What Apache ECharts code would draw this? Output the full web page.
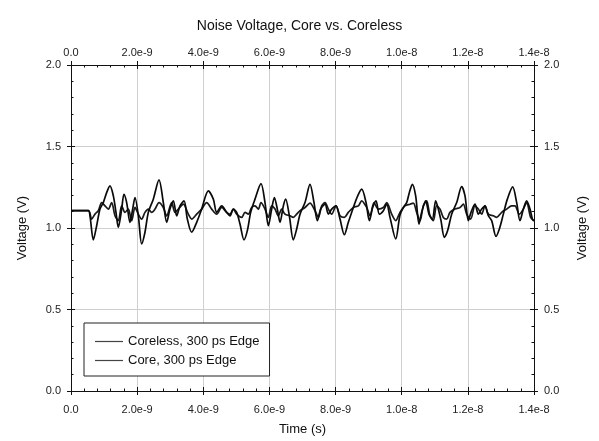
<!DOCTYPE html>
<html>
<head>
<meta charset="utf-8">
<script src="https://cdn.jsdelivr.net/npm/echarts@6/dist/echarts.min.js"></script>
<style>html,body{margin:0;padding:0;background:#fff}#c{width:599px;height:441px}</style>
</head>
<body>
<div id="c"></div>
<script>
// Time in ns (axis labels shown in seconds)
const xTicks = [0, 2, 4, 6, 8, 10, 12, 14];
const yTicks = [0, 0.5, 1.0, 1.5, 2.0];

const corelessT = [0, 0.524, 0.625, 0.725, 0.826, 0.927, 1.028, 1.129, 1.229, 1.330, 1.431, 1.532, 1.633, 1.733, 1.834, 1.935, 2.036, 2.137, 2.237, 2.338, 2.439, 2.540, 2.661, 2.792, 2.893, 3.044, 3.145, 3.246, 3.397, 3.548, 3.649, 3.800, 3.951, 4.102, 4.253, 4.405, 4.556, 4.707, 4.808, 4.909, 5.010, 5.161, 5.262, 5.362, 5.463, 5.564, 5.665, 5.745, 5.866, 5.967, 6.068, 6.169, 6.270, 6.370, 6.471, 6.622, 6.723, 6.824, 6.925, 7.076, 7.227, 7.378, 7.479, 7.580, 7.681, 7.782, 7.882, 8.013, 8.134, 8.265, 8.386, 8.538, 8.689, 8.790, 8.941, 9.042, 9.163, 9.294, 9.445, 9.546, 9.697, 9.818, 9.949, 10.099, 10.250, 10.351, 10.452, 10.553, 10.654, 10.754, 10.855, 10.956, 11.057, 11.158, 11.258, 11.359, 11.460, 11.611, 11.762, 11.863, 11.964, 12.085, 12.216, 12.317, 12.418, 12.518, 12.619, 12.770, 12.871, 13.022, 13.173, 13.324, 13.425, 13.556, 13.677, 13.778, 13.899, 14.0];
const corelessV = [1.106, 1.106, 1.055, 1.085, 1.106, 1.156, 1.136, 1.116, 1.156, 1.075, 1.045, 1.136, 1.096, 1.116, 1.045, 1.126, 1.085, 1.055, 1.096, 1.116, 1.096, 1.116, 1.156, 1.126, 1.075, 1.156, 1.096, 1.116, 1.146, 1.085, 1.055, 1.085, 1.116, 1.156, 1.116, 1.085, 1.126, 1.096, 1.085, 1.116, 1.085, 1.065, 1.096, 1.085, 1.126, 1.136, 1.116, 1.156, 1.116, 1.065, 1.136, 1.116, 1.075, 1.116, 1.085, 1.075, 1.065, 1.085, 1.106, 1.126, 1.152, 1.106, 1.065, 1.136, 1.156, 1.116, 1.085, 1.136, 1.075, 1.065, 1.096, 1.126, 1.136, 1.167, 1.126, 1.075, 1.156, 1.116, 1.126, 1.156, 1.085, 1.045, 1.096, 1.136, 1.146, 1.152, 1.096, 1.045, 1.136, 1.167, 1.075, 1.045, 1.136, 1.116, 1.065, 1.055, 1.096, 1.116, 1.126, 1.146, 1.085, 1.055, 1.136, 1.116, 1.085, 1.136, 1.085, 1.075, 1.065, 1.096, 1.116, 1.136, 1.136, 1.085, 1.116, 1.156, 1.065, 1.045];

const coreT = [0, 0.524, 0.574, 0.675, 0.776, 0.877, 0.977, 1.078, 1.179, 1.280, 1.360, 1.431, 1.532, 1.602, 1.683, 1.784, 1.864, 1.935, 2.036, 2.137, 2.237, 2.338, 2.489, 2.661, 2.792, 2.893, 2.993, 3.094, 3.195, 3.296, 3.417, 3.518, 3.649, 3.800, 3.951, 4.153, 4.304, 4.405, 4.556, 4.707, 4.808, 4.909, 5.010, 5.110, 5.231, 5.332, 5.433, 5.564, 5.745, 5.866, 5.967, 6.068, 6.149, 6.239, 6.320, 6.421, 6.491, 6.602, 6.723, 6.824, 6.925, 7.076, 7.227, 7.348, 7.449, 7.550, 7.681, 7.782, 7.882, 8.013, 8.134, 8.265, 8.386, 8.538, 8.669, 8.790, 8.921, 9.021, 9.122, 9.223, 9.324, 9.445, 9.546, 9.646, 9.818, 9.948, 10.049, 10.150, 10.230, 10.321, 10.422, 10.523, 10.603, 10.724, 10.825, 10.926, 11.027, 11.107, 11.188, 11.289, 11.389, 11.510, 11.662, 11.813, 11.914, 12.014, 12.095, 12.216, 12.317, 12.418, 12.518, 12.619, 12.720, 12.851, 12.952, 13.073, 13.194, 13.355, 13.476, 13.577, 13.678, 13.778, 13.879, 13.980, 14.0];
const coreV = [1.106, 1.106, 1.075, 0.927, 1.014, 1.116, 1.156, 1.217, 1.258, 1.197, 1.096, 1.004, 1.116, 1.207, 1.156, 1.035, 1.116, 1.187, 1.075, 0.902, 0.974, 1.096, 1.177, 1.295, 1.156, 1.035, 1.116, 1.167, 1.075, 1.136, 1.167, 1.055, 0.974, 1.035, 1.116, 1.228, 1.177, 1.096, 1.136, 1.096, 1.075, 1.116, 1.096, 1.024, 0.927, 0.984, 1.096, 1.177, 1.272, 1.156, 1.014, 1.116, 1.187, 1.116, 1.035, 1.136, 1.177, 1.075, 0.927, 0.994, 1.085, 1.156, 1.268, 1.156, 1.045, 1.116, 1.146, 1.085, 1.116, 1.136, 1.055, 0.959, 1.035, 1.126, 1.197, 1.238, 1.156, 1.045, 1.126, 1.167, 1.085, 1.106, 1.146, 1.065, 0.933, 1.080, 1.126, 1.156, 1.217, 1.268, 1.197, 1.024, 1.096, 1.167, 1.085, 1.055, 1.167, 1.116, 1.045, 0.943, 0.984, 1.085, 1.156, 1.254, 1.197, 1.045, 1.096, 1.146, 1.085, 1.116, 1.136, 1.075, 1.045, 0.949, 0.994, 1.085, 1.177, 1.252, 1.156, 1.045, 1.116, 1.167, 1.116, 1.045, 1.05];

const seriesNames = ['Coreless, 300 ps Edge', 'Core, 300 ps Edge'];
const titleText = 'Noise Voltage, Core vs. Coreless';

const FONT = '"Liberation Sans", Arial, sans-serif';
const chart = echarts.init(document.getElementById('c'), null, {renderer: 'canvas'});

const xFmt = v => (Math.abs(v) < 1e-9 ? '0.0' : (v * 1e-9).toExponential(1));
const yFmt = v => v.toFixed(1);

function xAxisDef(pos, labelled, inside) {
  return {
    type: 'value', position: pos, min: xTicks[0], max: xTicks[xTicks.length - 1], interval: xTicks[1] - xTicks[0],
    name: (labelled && pos === 'bottom') ? 'Time (s)' : '',
    nameLocation: 'middle', nameGap: 32,
    nameTextStyle: {fontFamily: FONT, fontSize: 13, color: '#111'},
    axisLine: {show: labelled, onZero: false, lineStyle: {color: '#111', width: 1}},
    axisTick: {show: true, inside: inside, length: 4, lineStyle: {color: '#111', width: 1}},
    minorTick: {show: inside, splitNumber: 5, length: 2.5, lineStyle: {color: '#111', width: 1}},
    axisLabel: {show: labelled, formatter: xFmt, fontFamily: FONT, fontSize: 11, color: '#222', margin: pos === 'bottom' ? 13 : 7},
    splitLine: {show: labelled && pos === 'bottom', lineStyle: {color: '#cfcfcf', width: 1}},
    minorSplitLine: {show: false}
  };
}
function yAxisDef(pos, labelled, inside) {
  return {
    type: 'value', position: pos, min: yTicks[0], max: yTicks[yTicks.length - 1], interval: yTicks[1] - yTicks[0],
    name: labelled ? 'Voltage (V)' : '',
    nameLocation: 'middle', nameGap: 42, nameRotate: 90,
    nameTextStyle: {fontFamily: FONT, fontSize: 13, color: '#111'},
    axisLine: {show: labelled, onZero: false, lineStyle: {color: '#111', width: 1}},
    axisTick: {show: true, inside: inside, length: 4, lineStyle: {color: '#111', width: 1}},
    minorTick: {show: inside, splitNumber: 5, length: 2.5, lineStyle: {color: '#111', width: 1}},
    axisLabel: {show: labelled, formatter: yFmt, fontFamily: FONT, fontSize: 11, color: '#222', margin: 10},
    splitLine: {show: labelled && pos === 'left', lineStyle: {color: '#cfcfcf', width: 1}}
  };
}

chart.setOption({
  backgroundColor: '#fff',
  animation: false,
  title: {text: titleText, left: 'center', top: 14,
    textStyle: {fontFamily: FONT, fontSize: 14, fontWeight: 'normal', color: '#111'}},
  grid: {left: 71, right: 65, top: 65, bottom: 48, containLabel: false},
  legend: {
    orient: 'vertical', left: 84, top: 323,
    data: seriesNames.map(n => ({name: n, icon: 'rect'})),
    backgroundColor: '#fff', borderColor: '#222', borderWidth: 1,
    padding: [12, 10, 9, 11], itemGap: 6, itemWidth: 28, itemHeight: 1.2,
    textStyle: {fontFamily: FONT, fontSize: 13, color: '#111'},
    itemStyle: {color: '#444'}
  },
  xAxis: [xAxisDef('bottom', true, false), xAxisDef('bottom', false, true),
          xAxisDef('top', true, false), xAxisDef('top', false, true)],
  yAxis: [yAxisDef('left', true, false), yAxisDef('left', false, true),
          yAxisDef('right', true, false), yAxisDef('right', false, true)],
  series: [
    {name: seriesNames[0], type: 'line', xAxisIndex: 0, yAxisIndex: 0, symbol: 'none', smooth: 0.3,
     lineStyle: {color: '#1a1a1a', width: 1.7}, itemStyle: {color: '#444'},
     data: corelessT.map((t, i) => [t, corelessV[i]])},
    {name: seriesNames[1], type: 'line', xAxisIndex: 0, yAxisIndex: 0, symbol: 'none', smooth: 0.3,
     lineStyle: {color: '#0a0a0a', width: 1.7}, itemStyle: {color: '#222'},
     data: coreT.map((t, i) => [t, coreV[i]])}
  ]
});
</script>
</body>
</html>
